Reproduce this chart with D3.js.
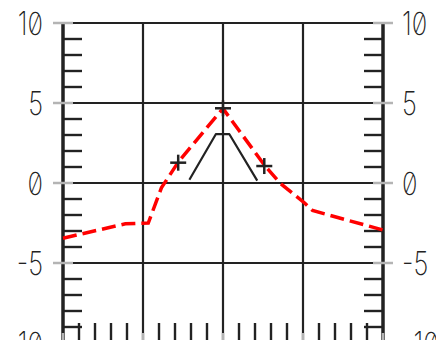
<!DOCTYPE html>
<html>
<head>
<meta charset="utf-8">
<script src="https://cdn.jsdelivr.net/npm/d3@7"></script>
<style>
  html, body { margin: 0; padding: 0; background: #fff; }
  svg { display: block; }
  .lbl { font-family: Inter, "DejaVu Sans", sans-serif; font-weight: 200; font-size: 32px; fill: #222;
         font-feature-settings: "zero" 1; font-variant-numeric: slashed-zero; }
</style>
</head>
<body>
<svg id="chart" width="436" height="340"></svg>
<script>
// ---- data ----
const yTickValues = [-10, -5, 0, 5, 10];
const yTickLabels = ["-10", "-5", "0", "5", "10"];
const xGridValues = [-10, -5, 0, 5, 10];

const redX = [-10, -6.1, -4.67, -3.85, -2.8, -1.1, 0, 2.6, 3.56, 5.1, 5.6, 10];
const redY = [-3.45, -2.55, -2.5, -0.3, 1.3, 3.35, 4.65, 1.1, 0, -1.25, -1.72, -2.94];

const blackX = [-2.1, -0.45, 0.4, 2.14];
const blackY = [0.2, 3.05, 3.05, 0.15];

const markerX = [-2.8, 0, 2.58];
const markerY = [1.27, 4.67, 1.06];

// ---- chart ----
const svg = d3.select("#chart");
const x = d3.scaleLinear().domain([-10, 10]).range([63, 383]);
const y = d3.scaleLinear().domain([-10, 10]).range([343, 23]);

const dark = "#222";
const g = svg.append("g");

// gridlines
g.selectAll(".vg").data([-5, 0, 5]).join("line")
  .attr("x1", d => x(d)).attr("x2", d => x(d))
  .attr("y1", y(10)).attr("y2", y(-10))
  .attr("stroke", dark).attr("stroke-width", 2.2);
g.selectAll(".hg").data(yTickValues).join("line")
  .attr("x1", x(-10)).attr("x2", x(10))
  .attr("y1", d => y(d)).attr("y2", d => y(d))
  .attr("stroke", dark).attr("stroke-width", 2.2);

// minor ticks
const minors = d3.range(-10, 11).filter(v => v % 5 !== 0);
g.selectAll(".ml").data(minors).join("line")
  .attr("x1", x(-10)).attr("x2", x(-10) + 19)
  .attr("y1", d => y(d)).attr("y2", d => y(d))
  .attr("stroke", dark).attr("stroke-width", 2.4);
g.selectAll(".mr").data(minors).join("line")
  .attr("x1", x(10) - 19).attr("x2", x(10))
  .attr("y1", d => y(d)).attr("y2", d => y(d))
  .attr("stroke", dark).attr("stroke-width", 2.4);
g.selectAll(".mb").data(minors).join("line")
  .attr("x1", d => x(d)).attr("x2", d => x(d))
  .attr("y1", y(-10)).attr("y2", y(-10) - 20)
  .attr("stroke", dark).attr("stroke-width", 2.4);

// axis lines
[x(-10), x(10)].forEach(px => {
  g.append("line").attr("x1", px).attr("x2", px)
    .attr("y1", y(10)).attr("y2", y(-10))
    .attr("stroke", dark).attr("stroke-width", 3.5);
});

// major ticks (gray)
const gray = "#b4b4b4";
[x(-10), x(10)].forEach(px => {
  g.selectAll(null).data(yTickValues).join("line")
    .attr("x1", px - 10).attr("x2", px + 10)
    .attr("y1", d => y(d)).attr("y2", d => y(d))
    .attr("stroke", gray).attr("stroke-width", 2.5);
});
g.selectAll(".mjb").data(xGridValues).join("line")
  .attr("x1", d => x(d)).attr("x2", d => x(d))
  .attr("y1", y(-10) - 10).attr("y2", y(-10) + 10)
  .attr("stroke", gray).attr("stroke-width", 2.5);

// labels
g.selectAll(".ll").data(yTickValues).join("text")
  .attr("class", "lbl")
  .attr("text-anchor", "end")
  .attr("dominant-baseline", "central")
  .attr("transform", d => `translate(43,${y(d)}) scale(0.8,1)`)
  .text((d, i) => yTickLabels[i]);
g.selectAll(".rl").data(yTickValues).join("text")
  .attr("class", "lbl")
  .attr("text-anchor", "start")
  .attr("dominant-baseline", "central")
  .attr("transform", d => `translate(402,${y(d)}) scale(0.8,1)`)
  .text((d, i) => yTickLabels[i]);

// black trapezoid
const line = d3.line().x(d => x(d[0])).y(d => y(d[1]));
g.append("path")
  .attr("d", line(blackX.map((v, i) => [v, blackY[i]])))
  .attr("fill", "none").attr("stroke", dark).attr("stroke-width", 2.2)
  .attr("stroke-linejoin", "round");

// red dashed
g.append("path")
  .attr("d", line(redX.map((v, i) => [v, redY[i]])))
  .attr("fill", "none").attr("stroke", "#ff0000").attr("stroke-width", 3.5)
  .attr("stroke-dasharray", "14,6");

// plus markers
const pts = markerX.map((v, i) => [v, markerY[i]]);
const s = 8;
g.selectAll(".ph").data(pts).join("line")
  .attr("x1", d => x(d[0]) - s).attr("x2", d => x(d[0]) + s)
  .attr("y1", d => y(d[1])).attr("y2", d => y(d[1]))
  .attr("stroke", dark).attr("stroke-width", 2.5);
g.selectAll(".pv").data(pts).join("line")
  .attr("x1", d => x(d[0])).attr("x2", d => x(d[0]))
  .attr("y1", d => y(d[1]) - s).attr("y2", d => y(d[1]) + s)
  .attr("stroke", dark).attr("stroke-width", 2.5);
</script>
</body>
</html>
